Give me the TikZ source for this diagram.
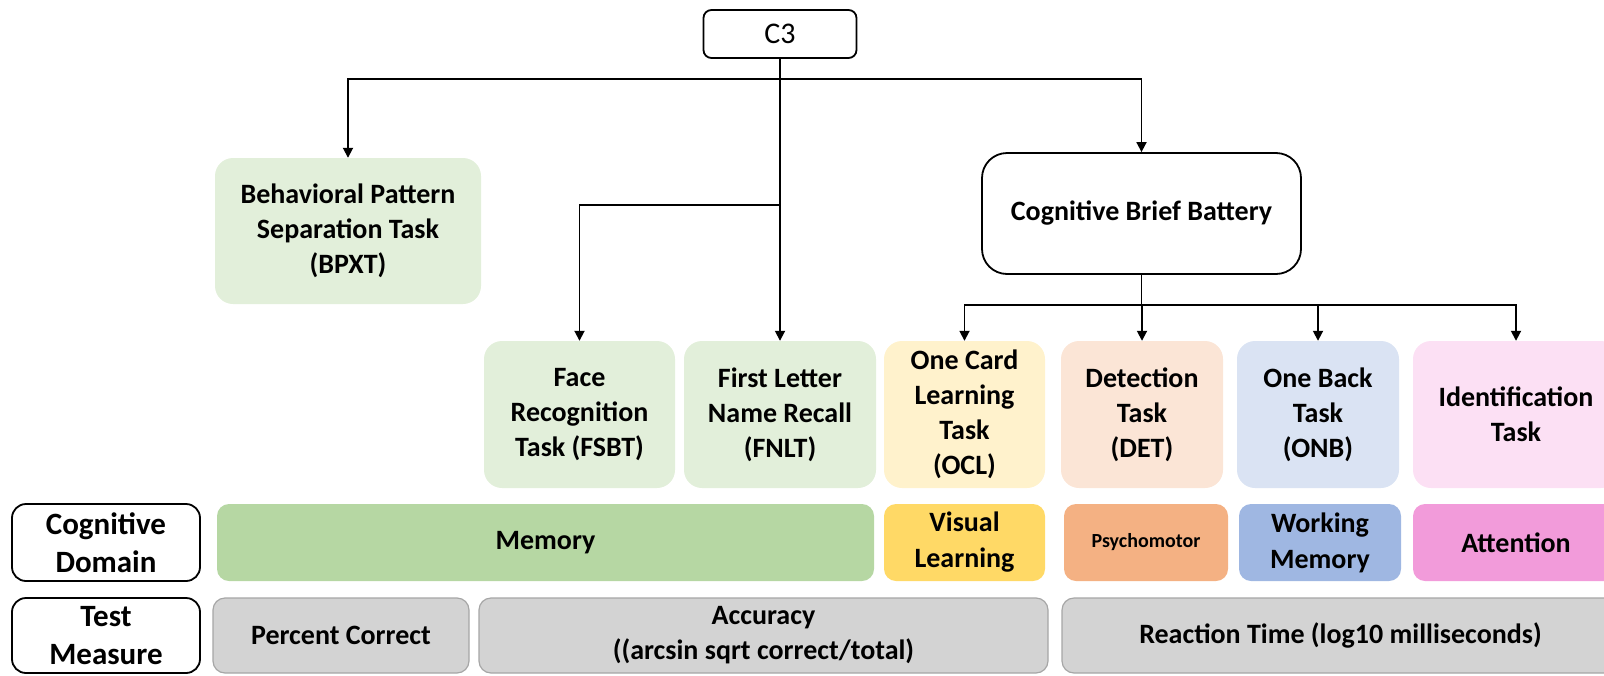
\documentclass[tikz,border=0pt]{standalone}
\usepackage{fontspec}
\setmainfont{Carlito}
\usetikzlibrary{arrows.meta}

\begin{document}
\begin{tikzpicture}[x=1pt,y=-1pt,
    link/.style={line width=1.8pt, draw=black},
    arrow/.style={link, -{Triangle[length=10pt,width=10pt]}},
    topbox/.style={draw=black, line width=1.8pt, fill=white, inner sep=0pt, align=center},
    taskbox/.style={rounded corners=18pt, inner sep=0pt, align=center,
        minimum height=147pt, font=\fontsize{28}{35}\selectfont\bfseries},
    domainbox/.style={rounded corners=12pt, inner sep=0pt, align=center,
        minimum height=77pt, font=\fontsize{28}{36}\selectfont\bfseries},
    measurebox/.style={rounded corners=12pt, inner sep=0pt, align=center, draw=borderGrey,
        line width=1.2pt, fill=fillGrey, minimum height=75pt, font=\fontsize{28}{35}\selectfont\bfseries},
    rowlabel/.style={draw=black, line width=1.8pt, rounded corners=14pt, inner sep=0pt, align=center,
        minimum width=188pt, font=\fontsize{31}{38}\selectfont\bfseries}
]
    \definecolor{fillTaskGreen}{HTML}{E2EFDA}
    \definecolor{fillMemory}{HTML}{B6D7A3}
    \definecolor{fillTaskYellow}{HTML}{FFF2CC}
    \definecolor{fillVisual}{HTML}{FFD966}
    \definecolor{fillTaskOrange}{HTML}{FBE5D6}
    \definecolor{fillPsycho}{HTML}{F4B183}
    \definecolor{fillTaskBlue}{HTML}{DAE3F3}
    \definecolor{fillWorking}{HTML}{9FB7E2}
    \definecolor{fillTaskPink}{HTML}{FCE0F4}
    \definecolor{fillAttention}{HTML}{F29BDA}
    \definecolor{fillGrey}{HTML}{D3D3D3}
    \definecolor{borderGrey}{HTML}{A6A6A6}

    \useasboundingbox (0,0) rectangle (1604,675);

    % Top of the tree
    \node[topbox, rounded corners=8pt, minimum width=153pt, minimum height=48pt,
        font=\fontsize{30}{36}\selectfont] (c3) at (780,34) {C3};
    \node[taskbox, fill=fillTaskGreen, minimum width=266pt, minimum height=146pt] (bpxt) at (348,231)
        {Behavioral Pattern\\Separation Task\\(BPXT)};
    \node[topbox, rounded corners=25pt, minimum width=319pt, minimum height=121pt,
        font=\fontsize{28}{35}\selectfont\bfseries] (cbb) at (1141.5,213.5) {Cognitive Brief Battery};

    % Tasks
    \node[taskbox, fill=fillTaskGreen, minimum width=191pt] (face) at (579.5,414.5) {Face\\Recognition\\Task (FSBT)};
    \node[taskbox, fill=fillTaskGreen, minimum width=192pt] (fnlt) at (780,414.5) {First Letter\\Name Recall\\(FNLT)};
    \node[taskbox, fill=fillTaskYellow, minimum width=161pt] (ocl) at (964.5,414.5) {One Card\\Learning\\Task\\(OCL)};
    \node[taskbox, fill=fillTaskOrange, minimum width=162pt] (det) at (1142,414.5) {Detection\\Task\\(DET)};
    \node[taskbox, fill=fillTaskBlue, minimum width=162pt] (onb) at (1318,414.5) {One Back\\Task\\(ONB)};
    \node[taskbox, fill=fillTaskPink, minimum width=206pt] (ident) at (1516,414.5) {Identification\\Task};

    % Cognitive domain row
    \node[rowlabel, minimum height=77pt] (domain) at (106,542.5) {Cognitive\\Domain};
    \node[domainbox, fill=fillMemory, minimum width=657pt] (memory) at (545.5,542.5) {Memory};
    \node[domainbox, fill=fillVisual, minimum width=161pt] (visual) at (964.5,542.5) {Visual\\Learning};
    \node[domainbox, fill=fillPsycho, minimum width=164pt, font=\fontsize{20}{24}\selectfont\bfseries]
        (psycho) at (1146,542.5) {Psychomotor};
    \node[domainbox, fill=fillWorking, minimum width=162pt] (working) at (1320,542.5) {Working\\Memory};
    \node[domainbox, fill=fillAttention, minimum width=206pt] (attention) at (1516,542.5) {Attention};

    % Test measure row
    \node[rowlabel, minimum height=75pt] (measure) at (106,635.5) {Test\\Measure};
    \node[measurebox, minimum width=256pt] (percent) at (341,635.5) {Percent Correct};
    \node[measurebox, minimum width=569pt] (accuracy) at (763.5,635.5) {Accuracy\\((arcsin sqrt correct/total)};
    \node[measurebox, minimum width=557pt] (reaction) at (1340.5,635.5) {Reaction Time (log10 milliseconds)};

    % Connectors
    \coordinate (split) at (780,79);
    \coordinate (facesplit) at (780,205);
    \coordinate (cbbsplit) at (1141.5,305);
    \draw[arrow] (c3.south) -- (fnlt.north);
    \draw[arrow] (split) -| (bpxt.north);
    \draw[arrow] (split) -| (cbb.north);
    \draw[arrow] (facesplit) -| (face.north);
    \draw[link] (cbb.south) -- (cbbsplit);
    \foreach \t in {ocl,det,onb,ident}
        \draw[arrow] (cbbsplit) -| (\t.north);

\end{tikzpicture}
\end{document}
